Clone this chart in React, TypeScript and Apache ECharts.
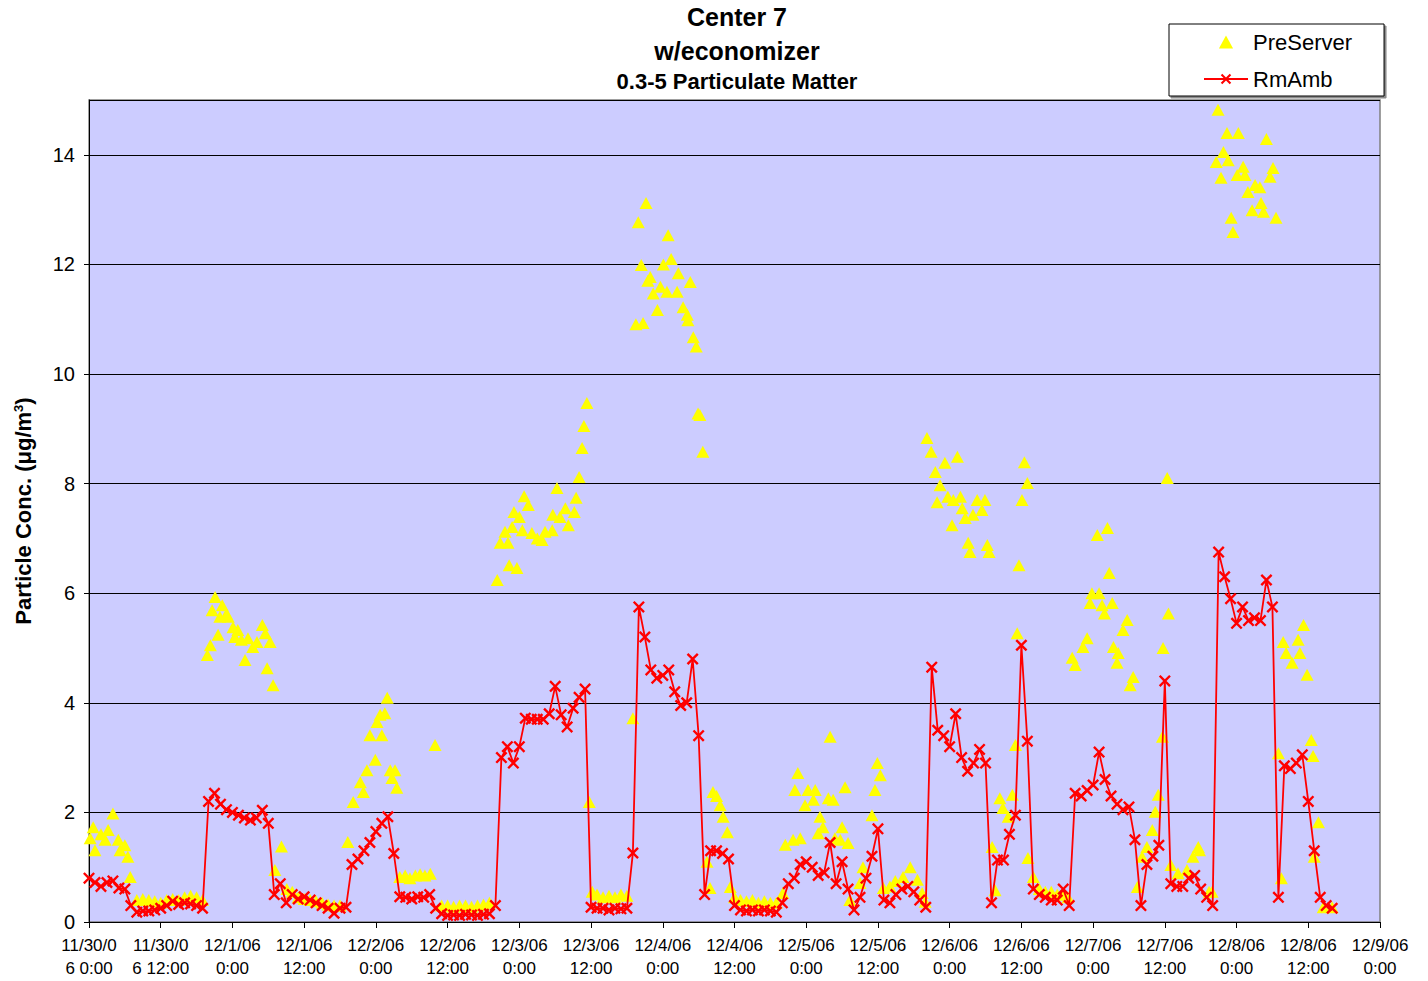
import React, { useEffect, useRef } from "react";
import * as echarts from "echarts";

const FONT = "'Liberation Sans', Arial, Helvetica, sans-serif";

// x-axis tick labels, every 12 hours from 11/30/06 0:00
const tickLabels = [
  "11/30/0\n6 0:00", "11/30/0\n6 12:00", "12/1/06\n0:00", "12/1/06\n12:00",
  "12/2/06\n0:00", "12/2/06\n12:00", "12/3/06\n0:00", "12/3/06\n12:00",
  "12/4/06\n0:00", "12/4/06\n12:00", "12/5/06\n0:00", "12/5/06\n12:00",
  "12/6/06\n0:00", "12/6/06\n12:00", "12/7/06\n0:00", "12/7/06\n12:00",
  "12/8/06\n0:00", "12/8/06\n12:00", "12/9/06\n0:00",
];

// RmAmb, hourly values starting 11/30/06 0:00 (hour index = position)
const rmAmb = [
  0.8, 0.72, 0.65, 0.72, 0.75, 0.62, 0.6, 0.3, 0.18, 0.2,
  0.2, 0.22, 0.25, 0.3, 0.38, 0.32, 0.35, 0.33, 0.3, 0.25,
  2.2, 2.35, 2.15, 2.05, 2.0, 1.95, 1.9, 1.86, 1.9, 2.04,
  1.8, 0.5, 0.7, 0.35, 0.5, 0.42, 0.46, 0.4, 0.35, 0.3,
  0.25, 0.16, 0.25, 0.27, 1.05, 1.15, 1.3, 1.45, 1.65, 1.8,
  1.92, 1.25, 0.46, 0.45, 0.42, 0.46, 0.45, 0.5, 0.25, 0.15,
  0.12, 0.13, 0.12, 0.14, 0.13, 0.12, 0.14, 0.15, 0.3, 3.0,
  3.2, 2.9, 3.2, 3.72, 3.7, 3.7, 3.7, 3.8, 4.3, 3.78,
  3.56, 3.9, 4.1, 4.25, 0.27, 0.25, 0.25, 0.22, 0.25, 0.24,
  0.25, 1.26, 5.75, 5.2, 4.6, 4.45, 4.5, 4.6, 4.2, 3.95,
  4.0, 4.8, 3.4, 0.5, 1.3, 1.3, 1.25, 1.15, 0.3, 0.22,
  0.2, 0.22, 0.2, 0.22, 0.2, 0.18, 0.35, 0.7, 0.8, 1.05,
  1.1, 1.0, 0.85, 0.9, 1.45, 0.7, 1.1, 0.6, 0.22, 0.45,
  0.8, 1.2, 1.7, 0.4, 0.35, 0.5, 0.6, 0.65, 0.55, 0.4,
  0.27, 4.65, 3.5, 3.4, 3.2, 3.8, 3.0, 2.75, 2.9, 3.15,
  2.9, 0.35, 1.13, 1.13, 1.6, 1.95, 5.05, 3.3, 0.6, 0.5,
  0.45, 0.4, 0.4, 0.6, 0.3, 2.35, 2.3, 2.4, 2.5, 3.1,
  2.6, 2.3, 2.15, 2.05, 2.1, 1.5, 0.3, 1.05, 1.2, 1.4,
  4.4, 0.7, 0.65, 0.65, 0.8, 0.85, 0.6, 0.45, 0.3, 6.75,
  6.3, 5.9, 5.45, 5.75, 5.5, 5.55, 5.5, 6.24, 5.75, 0.45,
  2.85, 2.8, 2.9, 3.05, 2.2, 1.3, 0.45, 0.3, 0.25,
];

// PreServer sample times (hours after 11/30/06 0:00)
const preTime = [
  0.2, 0.7, 1.0, 2.0, 2.7, 3.2, 4.0, 4.9, 5.2, 6.0, 6.5, 6.9, 8.0, 9, 10, 11, 12, 13, 14, 15, 16, 17, 18, 19,
  19.8, 20.3, 20.6, 21.1, 21.6, 21.9, 22.3, 23.0, 23.3, 24.1, 24.4, 24.9, 25.5, 26.1, 26.6, 27.4, 28.1, 29.0, 29.5, 29.8, 30.3, 30.8,
  31.1, 32.2, 33.1, 34.0, 35, 36, 37, 38, 39, 40, 41, 42, 43.3,
  44.2, 45.4, 45.9, 46.5, 47.0, 47.9, 48.2, 48.7, 49.0, 49.5, 49.9, 50.4, 50.7, 51.2, 51.5,
  52.0, 52.9, 53.7, 54.6, 55.4, 56.2, 57.1, 57.9, 59, 60, 61, 62, 63, 64, 65, 66, 67,
  68.3, 68.8, 69.6, 70.1, 70.3, 70.8, 71.1, 71.6, 72.0, 72.5, 72.8, 73.5, 74.1, 75.0, 75.8, 76.3,
  77.5, 77.6, 78.3, 78.8, 79.7, 80.2, 81.2, 81.5, 82.0, 82.5, 82.8, 83.3, 83.7,
  84.2, 85, 86, 87, 88, 89, 90, 91.0,
  91.5, 91.9, 92.4, 92.7, 93.2, 93.5, 93.9, 94.4, 95.1, 95.6, 96.1, 96.7, 96.9, 97.4, 98.4, 98.6,
  99.4, 100.1, 100.2, 100.6, 101.1, 101.6, 101.9, 102.2, 102.7,
  103.4, 103.9, 104.4, 105.0, 105.6, 106.1, 106.8, 107.3, 108, 109, 110, 111, 112, 113, 114, 115,
  116.1, 116.5, 117.8, 118.1, 118.6, 119.0, 119.8, 120.3, 121.2, 121.5, 122.0, 122.3, 122.8, 123.7, 124.0,
  124.5, 124.8, 125.7, 126.0, 126.5, 127.0, 127.3, 129.0, 129.5, 131.0, 131.5, 131.9, 132.4, 132.9,
  134.0, 134.9, 136.2, 137.4, 138.6, 139.4, 139.9,
  140.2, 140.9, 141.6, 141.9, 142.4, 143.2, 143.7, 144.4, 144.6, 145.3, 145.8, 146.1, 146.6, 147.1, 147.4,
  147.9, 148.6, 149.4, 149.9, 150.3, 150.6,
  151.1, 151.6, 152.4, 152.9, 153.8, 154.5, 155.0, 155.3, 155.6, 156.1, 156.5, 157.0, 157.1, 158.0,
  159, 160, 161, 162, 163, 163.8,
  164.5, 165.0, 166.3, 167.0, 167.5, 167.8, 168.7, 169.0, 169.5, 169.9, 170.4, 170.7, 171.2, 171.4,
  172.0, 172.2, 173.0, 173.7, 174.2, 174.7,
  175.4, 176.2, 177.0, 177.9, 178.4, 178.9, 179.6, 179.7, 180.4, 180.6, 181.0, 182.2, 183.7, 184.7,
  185.6, 185.8, 187.4, 187.9,
  188.6, 188.9, 189.4, 189.8, 190.4, 190.6, 191.1, 191.4, 192.1, 192.3, 193.1, 193.4, 193.9, 194.6,
  195.1, 195.9, 196.1, 196.5, 197.0, 197.6, 198.1, 198.6,
  199.0, 199.5, 199.8, 200.3, 201.3, 202.3, 202.6, 203.2, 203.8, 204.5, 204.8, 205.0, 205.7, 206.5, 208.0,
];

// PreServer values (µg/m³), same order as preTime
const preServer = [
  1.53, 1.73, 1.31, 1.6, 1.5, 1.68, 1.98, 1.5, 1.31, 1.4, 1.19, 0.82, 0.4, 0.42, 0.4, 0.38, 0.35, 0.4, 0.42, 0.4, 0.45, 0.48, 0.45, 0.4,
  4.87, 5.05, 5.69, 5.93, 5.24, 5.57, 5.78, 5.62, 5.57, 5.38, 5.2, 5.33, 5.15, 4.78, 5.18, 5.02, 5.11, 5.42, 5.27, 4.63, 5.11, 4.32,
  0.95, 1.38, 0.6, 0.55, 0.45, 0.42, 0.4, 0.38, 0.35, 0.32, 0.3, 0.3, 1.46,
  2.19, 2.55, 2.37, 2.77, 3.41, 2.96, 3.65, 3.78, 3.41, 3.81, 4.09, 2.77, 2.63, 2.77, 2.45,
  0.82, 0.85, 0.8, 0.85, 0.87, 0.85, 0.88, 3.23, 0.3, 0.3, 0.28, 0.3, 0.3, 0.28, 0.3, 0.32, 0.35,
  6.24, 6.92, 7.12, 6.92, 6.51, 7.21, 7.48, 6.46, 7.39, 7.15, 7.77, 7.61, 7.1, 7.0, 6.97, 7.12,
  7.15, 7.43, 7.92, 7.39, 7.55, 7.24, 7.48, 7.74, 8.12, 8.65, 9.05, 9.47, 2.19,
  0.55, 0.5, 0.45, 0.48, 0.45, 0.5, 0.48, 3.72,
  10.91, 12.77, 11.99, 10.93, 13.12, 11.7, 11.77, 11.47, 11.17, 11.59, 12.0, 11.5, 12.53, 12.1, 11.5, 11.84,
  11.22, 11.08, 10.98, 11.68, 10.67, 10.5, 9.28, 9.25, 8.58,
  1.1, 0.62, 2.37, 2.3, 2.13, 1.92, 1.64, 0.64, 0.45, 0.4, 0.38, 0.4, 0.35, 0.38, 0.35, 0.35,
  0.53, 1.41, 1.5, 2.41, 2.72, 1.53, 2.13, 2.41, 2.23, 2.41, 1.62, 1.92, 1.73, 2.26, 3.38,
  2.23, 1.53, 1.5, 1.73, 2.46, 1.44, 0.4, 0.71, 1.0, 1.95, 2.41, 2.9, 2.68, 0.62,
  0.65, 0.75, 0.82, 1.0, 0.77, 0.53, 0.37,
  8.83, 8.58, 8.21, 7.66, 7.97, 8.38, 7.76, 7.24, 7.7, 8.49, 7.76, 7.55, 7.37, 6.92, 6.75,
  7.43, 7.7, 7.52, 7.7, 6.88, 6.75,
  1.37, 0.58, 2.26, 2.08, 1.92, 2.32, 3.23, 5.27, 6.51, 7.7, 8.39, 8.01, 1.17, 0.82,
  0.6, 0.55, 0.55, 0.5, 0.5, 0.45,
  4.82, 4.69, 5.02, 5.18, 5.82, 6.0, 7.06, 6.0, 5.78, 5.63, 7.19, 6.37, 5.82, 5.02,
  4.73, 4.91, 5.33, 5.51, 4.32, 4.47,
  0.64, 1.19, 1.37, 1.68, 2.01, 2.32, 3.38, 5.0, 8.1, 5.63, 1.04, 0.89, 0.95, 1.19,
  1.37, 1.31, 0.55, 0.55,
  13.87, 14.82, 13.58, 14.05, 14.4, 13.9, 12.85, 12.59, 13.63, 14.4, 13.78, 13.63, 13.32, 12.99,
  13.45, 13.41, 13.12, 12.96, 14.29, 13.6, 13.76, 12.85,
  3.08, 0.8, 5.11, 4.91, 4.73, 5.15, 4.91, 5.42, 4.51, 3.32, 3.03, 1.19, 1.82, 0.27, 0.27,
];

const CROSS =
  "path://M0,1.4L1.4,0L5,3.6L8.6,0L10,1.4L6.4,5L10,8.6L8.6,10L5,6.4L1.4,10L0,8.6L3.6,5Z";
const TRI = "path://M6,0L12,11L0,11Z";

export default function App() {
  const ref = useRef<HTMLDivElement>(null);

  useEffect(() => {
    document.body.style.margin = "0";
    if (!ref.current) return;
    const chart = echarts.init(ref.current, undefined, { renderer: "svg" });

    const preData = preTime.map((t, i) => [t, preServer[i]]);
    const rmData = rmAmb.map((v, i) => [i, v]);

    const titleText = (text: string, y: number, size: number) => ({
      type: "text",
      x: 737,
      y,
      style: {
        text,
        fontSize: size,
        fontWeight: "bold",
        fontFamily: FONT,
        fill: "#000",
        align: "center",
        verticalAlign: "middle",
      },
    });

    chart.setOption({
      animation: false,
      textStyle: { fontFamily: FONT },
      graphic: [
        titleText("Center 7", 17, 25),
        titleText("w/economizer", 51, 25),
        titleText("0.3-5 Particulate Matter", 81, 22),
      ],
      legend: {
        orient: "vertical",
        left: 1169,
        top: 24,
        padding: [7, 32, 6, 34],
        itemGap: 15,
        itemWidth: 44,
        itemHeight: 13,
        symbolKeepAspect: true,
        backgroundColor: "#fff",
        borderColor: "#000",
        borderWidth: 1,
        shadowColor: "rgba(0,0,0,0.45)",
        shadowOffsetX: 2,
        shadowOffsetY: 2,
        shadowBlur: 0,
        textStyle: { fontSize: 22, color: "#000", fontFamily: FONT },
        data: [{ name: "PreServer", icon: TRI }, { name: "RmAmb" }],
      },
      grid: {
        left: 89,
        right: 48,
        top: 100,
        bottom: 59,
        show: true,
        backgroundColor: "#CCCCFF",
        borderColor: "#808080",
        borderWidth: 1.5,
      },
      xAxis: {
        type: "value",
        min: 0,
        max: 216,
        interval: 12,
        axisLine: { show: true, onZero: false, lineStyle: { color: "#000", width: 1 } },
        axisTick: { show: true, length: 6, lineStyle: { color: "#000" } },
        splitLine: { show: false },
        axisLabel: {
          color: "#000",
          fontSize: 17,
          fontFamily: FONT,
          lineHeight: 23,
          margin: 12,
          formatter: (v: number) => tickLabels[Math.round(v / 12)] ?? "",
        },
      },
      yAxis: {
        type: "value",
        min: 0,
        max: 15,
        interval: 2,
        name: "Particle Conc. (μg/m{sup|3})",
        nameLocation: "middle",
        nameGap: 55,
        nameTextStyle: {
          fontSize: 22,
          fontWeight: "bold",
          color: "#000",
          fontFamily: FONT,
          rich: {
            sup: {
              fontSize: 13,
              fontWeight: "bold",
              fontFamily: FONT,
              color: "#000",
              verticalAlign: "top",
              padding: [0, 0, 8, 0],
            },
          },
        },
        axisLine: { show: true, lineStyle: { color: "#000", width: 1 } },
        axisTick: { show: true, length: 5, lineStyle: { color: "#000" } },
        splitLine: { show: true, lineStyle: { color: "#000", width: 1 } },
        axisLabel: {
          color: "#000",
          fontSize: 20,
          fontFamily: FONT,
          margin: 14,
          showMaxLabel: false,
        },
      },
      series: [
        {
          name: "PreServer",
          type: "scatter",
          data: preData,
          symbol: "triangle",
          symbolSize: [13, 12],
          itemStyle: { color: "#FFFF00", opacity: 1 },
          z: 2,
        },
        {
          name: "RmAmb",
          type: "line",
          data: rmData,
          symbol: CROSS,
          symbolSize: 12,
          showSymbol: true,
          showAllSymbol: true,
          itemStyle: { color: "#FF0000" },
          lineStyle: { color: "#FF0000", width: 1.8 },
          z: 3,
        },
      ],
    });

    return () => chart.dispose();
  }, []);

  return <div ref={ref} style={{ width: 1428, height: 981 }} />;
}
